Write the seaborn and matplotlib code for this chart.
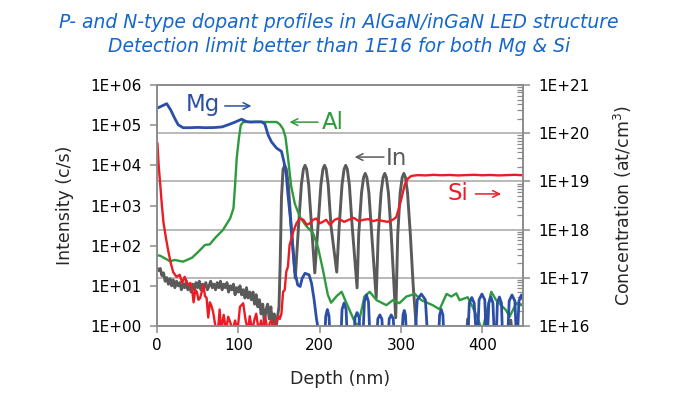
import numpy as np
import matplotlib
matplotlib.use('Agg')
import matplotlib.pyplot as plt
import seaborn as sns
from matplotlib.ticker import FuncFormatter, LogLocator, FixedLocator, NullFormatter, MultipleLocator

# Al and In: secondary ion intensity (c/s), left axis
al_depth = [0, 4, 10, 16, 22, 32, 43, 51, 59, 65, 71, 81, 90, 94, 96, 98, 100.7, 103, 106, 120,
            135, 147, 151, 155, 158, 161, 165, 169.5, 176, 184, 192, 198, 204, 210, 214, 220.7,
            224.7, 227, 233, 243, 247, 255, 261.5, 270, 282, 290, 298, 306.6, 317, 325, 339,
            347.5, 356, 362, 368, 372, 382, 388, 394, 400, 411, 417, 429, 433.5, 441.7, 448, 450]
al_counts = [58, 56, 48, 41, 44, 40, 50, 71, 104, 108, 152, 245, 480, 850, 3200, 15000, 47000, 100000, 120000, 121000,
             120000, 120000, 105000, 80000, 50000, 16000, 3000, 1100, 500, 300, 203, 90, 25, 6, 3.8, 5.5,
             6.5, 7.1, 3.7, 1.28, 0.96, 5.4, 7.1, 4.4, 3.3, 4.4, 3.7, 5.4, 6.3, 4.4, 3.3,
             2.6, 6.3, 5.4, 6.5, 4.4, 5.2, 3.0, 1.6, 0.75, 7.1, 4.4, 2.5, 1.7, 3.7, 3.3, 3.5]

in_depth = [0, 2, 4, 6, 8, 10, 12, 14, 16, 18, 20, 22, 24, 26, 28, 30, 32, 34, 36, 38,
            40, 42, 44, 46, 48, 50, 52, 54, 56, 58, 60, 62, 64, 66, 68, 70, 72, 74, 76, 78,
            80, 82, 84, 86, 88, 90, 92, 94, 96, 98, 100, 102, 104, 106, 108, 110, 112, 114, 116, 118,
            120, 122, 124, 126, 128, 130, 132, 134, 136, 138, 140, 142, 144, 146, 148,
            150, 151.5, 153, 155, 157, 159, 161.5, 165, 170,
            174, 177.5, 180, 182, 184, 186.5, 190, 194,
            198, 201.5, 204, 206, 208, 210.5, 214, 221,
            224, 227.5, 230, 232, 234, 236.5, 240, 246,
            248, 251.5, 254, 256, 258, 260.5, 264, 269.5,
            272, 275.5, 278, 280, 282, 284.5, 288, 293.5,
            296, 299, 301.5, 303.5, 305.5, 308, 311.5, 315, 319, 322,
            380, 382, 384, 433, 435, 437, 450]
in_counts = [28, 24, 27, 18, 21, 13, 16, 11, 15, 10, 14, 9, 13, 10, 12, 8, 11, 9, 13, 8,
             10, 7, 11, 8, 12, 9, 13, 8, 11, 9, 12, 8, 10, 13, 9, 11, 8, 12, 9, 13,
             8, 11, 9, 12, 7, 10, 8, 11, 6, 9, 7, 10, 6, 8, 5, 9, 5, 7, 4.5, 7,
             3.5, 6, 3, 4.5, 2, 3.5, 1.2, 2.5, 3.5, 1.5, 3, 1, 2, 0.8, 1.6,
             3, 40, 1500, 8000, 10000, 8000, 3300, 300, 15.5,
             300, 3300, 8000, 10000, 8000, 3300, 300, 21,
             300, 3300, 8000, 10000, 8000, 3300, 300, 22,
             300, 3300, 8000, 10000, 8000, 3300, 300, 8.9,
             190, 2100, 5000, 6300, 5000, 2100, 190, 5.0,
             190, 2100, 5000, 6300, 5000, 2100, 190, 1.6,
             190, 2100, 5000, 6300, 5000, 2100, 190, 10, 0.8, 0.5,
             0.5, 1.5, 0.5, 0.5, 1.4, 0.5, 0.5]

# Mg and Si: concentration (at/cm3), right axis
mg_depth = [0, 5, 12, 17, 22, 26, 32, 40, 50, 60, 70, 80, 90, 96, 104, 110, 115, 122, 128.6, 132.6,
            136.7, 140.8, 147, 153, 156, 159, 161, 164, 167, 169.5, 173, 176, 178.5, 182, 187, 190, 193, 196, 198, 204,
            206, 207.5, 209.5, 211.5, 213, 226, 227.5, 230, 232.5, 234, 242, 243.5, 246, 248.5, 250,
            253, 255, 257.5, 260, 262, 270, 271.5, 274, 276.5, 278, 284, 285.5, 288, 290.5, 292,
            301, 302.5, 304, 305.5, 307, 317, 320, 325, 330, 333, 346, 347.5, 349.5, 351.5, 353,
            382, 384, 387, 390, 393, 394, 396, 399.5, 403, 405, 406, 408, 410.5, 413, 415,
            417, 418.5, 421, 423.5, 425, 431, 433, 436.5, 440, 442, 443, 445, 448, 450]
mg_conc = [3.3e20, 3.6e20, 4.1e20, 3.0e20, 2.0e20, 1.5e20, 1.3e20, 1.3e20, 1.32e20, 1.3e20,
           1.31e20, 1.35e20, 1.55e20, 1.7e20, 1.95e20, 1.74e20, 1.7e20, 1.72e20, 1.72e20, 1.55e20,
           9.1e19, 6.6e19, 4.9e19, 4.2e19, 2.6e19, 1.35e19, 5.3e18, 1.7e18, 4.2e17, 1.35e17,
           7.1e16, 6.6e16, 9.8e16, 1.24e17, 1.15e17, 7.7e16, 3.7e16, 1.45e16, 9e15, 5e15,
           5e15, 1.6e16, 2.2e16, 1.6e16, 5e15, 5e15, 2.2e16, 3.0e16, 2.2e16, 5e15, 5e15, 1.5e16, 1.9e16, 1.5e16, 5e15,
           5e15, 3.2e16, 4.4e16, 3.2e16, 5e15, 5e15, 1.4e16, 1.7e16, 1.4e16, 5e15, 5e15, 1.4e16, 1.7e16, 1.4e16, 5e15,
           5e15, 1.7e16, 2.1e16, 1.7e16, 5e15, 5e15, 3.5e16, 4.6e16, 3.5e16, 5e15, 5e15, 1.7e16, 2.2e16, 1.7e16, 5e15,
           5e15, 3.0e16, 3.9e16, 3.0e16, 5e15, 5e15, 3.5e16, 4.6e16, 3.5e16, 5e15, 5e15, 3.0e16, 4.0e16, 3.0e16, 5e15,
           5e15, 3.0e16, 4.0e16, 3.0e16, 5e15, 5e15, 3.3e16, 4.4e16, 3.3e16, 5e15, 5e15, 3.3e16, 4.4e16, 3.5e16]

si_depth = [0.5, 2, 4, 6, 8, 11, 14, 17, 20, 24, 28, 31, 34, 38, 41, 43, 45, 47, 49, 51,
            53, 55, 57, 59, 61, 63, 65, 67, 69, 71, 73, 75, 77, 79, 82, 85, 87.5, 90, 93, 96,
            99, 102, 106, 109, 112, 114, 117, 120, 122, 125, 128, 131, 133, 136, 139, 141, 144, 147, 149, 151,
            153, 155, 157, 159, 161, 163, 165, 167.5, 171.5, 175.6, 180, 184, 188, 192, 196, 200, 204, 208, 212.5, 218.6,
            222.7, 230, 236, 242, 248, 254, 260, 266, 272, 278, 284, 290, 294, 297, 300.5, 304.6, 308.6, 312.8, 321, 330,
            340, 350, 360, 370, 380, 390, 400, 410, 420, 430, 440, 450]
si_conc = [6.3e19, 2.2e19, 8.5e18, 3.2e18, 1.4e18, 6.7e17, 3.5e17, 2.0e17, 1.3e17, 1.05e17,
           1.15e17, 7.8e16, 1.05e17, 7.1e16, 7.8e16, 6.1e16, 3.1e16, 5.6e16, 5.1e16, 3.5e16,
           3.8e16, 5.1e16, 7.1e16, 4.2e16, 3.8e16, 1.5e16, 3.1e16, 2.6e16, 1.95e16, 1.2e16,
           8e15, 8e15, 2.2e16, 8e15, 1.7e16, 8e15, 1.56e16, 1.2e16, 8e15, 1.3e16,
           8e15, 2.5e16, 2.96e16, 1.3e16, 8e15, 1.6e16, 8e15, 1.4e16, 1.8e16, 8e15,
           1.3e16, 8e15, 1.55e16, 8e15, 1.2e16, 1.3e16, 8e15, 1.2e16, 1.6e16, 1.4e16,
           1.8e16, 5.1e16, 5.6e16, 1.35e17, 1.7e17, 4.8e17, 6.1e17, 9.1e17, 1.35e18, 1.7e18,
           1.6e18, 1.26e18, 1.35e18, 1.6e18, 1.7e18, 1.35e18, 1.45e18, 1.6e18, 1.26e18, 1.6e18,
           1.7e18, 1.45e18, 1.6e18, 1.75e18, 1.5e18, 1.6e18, 1.65e18, 1.5e18, 1.6e18, 1.5e18,
           1.45e18, 1.6e18, 1.8e18, 2.6e18, 4.4e18, 8.5e18, 1.15e19, 1.3e19, 1.35e19, 1.33e19,
           1.37e19, 1.34e19, 1.36e19, 1.33e19, 1.35e19, 1.37e19, 1.34e19, 1.36e19, 1.33e19, 1.35e19,
           1.37e19, 1.34e19]

title_lines = ['P- and N-type dopant profiles in AlGaN/inGaN LED structure',
               'Detection limit better than 1E16 for both Mg & Si']

BLUE = '#2b4ea6'
GREEN = '#2e9a3e'
GRAY = '#5a5a5a'
RED = '#ec1c24'
AXIS_GRAY = '#8c8c8c'
TITLE_BLUE = '#1467cc'

sns.set_theme(style='white')
plt.rcParams['font.family'] = ['DejaVu Sans']

fig = plt.figure(figsize=(6.78, 3.93), dpi=100)
ax = fig.add_axes([157 / 678, 1 - 326 / 393, 366 / 678, 241 / 393])
ax2 = ax.twinx()

sns.lineplot(x=in_depth, y=in_counts, ax=ax, color=GRAY, lw=2.1, estimator=None, sort=False)
sns.lineplot(x=al_depth, y=al_counts, ax=ax, color=GREEN, lw=1.7, estimator=None, sort=False)
sns.lineplot(x=mg_depth, y=mg_conc, ax=ax2, color=BLUE, lw=2.0, estimator=None, sort=False)
sns.lineplot(x=si_depth, y=si_conc, ax=ax2, color=RED, lw=1.7, estimator=None, sort=False)

ax.set_yscale('log')
ax2.set_yscale('log')
ax.set_xlim(0, 450)
ax.set_ylim(1, 1e6)
ax2.set_ylim(1e16, 1e21)

sci = FuncFormatter(lambda v, _: f'{v:.0E}')
ax.yaxis.set_major_locator(LogLocator(base=10, numticks=10))
ax.yaxis.set_major_formatter(sci)
ax2.yaxis.set_major_locator(LogLocator(base=10, numticks=10))
ax2.yaxis.set_major_formatter(sci)
ax2.yaxis.set_minor_locator(LogLocator(base=10, subs=np.arange(2, 10), numticks=20))
ax2.yaxis.set_minor_formatter(NullFormatter())
ax.xaxis.set_major_locator(MultipleLocator(100))

# horizontal grid at the right-axis decades, drawn on the bottom axes
lo2, hi2 = np.log10(ax2.get_ylim())
lo1, hi1 = np.log10(ax.get_ylim())
grid_pos = 10 ** (lo1 + (np.arange(lo2 + 1, hi2) - lo2) * (hi1 - lo1) / (hi2 - lo2))
ax.yaxis.set_minor_locator(FixedLocator(grid_pos))
ax.yaxis.set_minor_formatter(NullFormatter())
ax.grid(False)
ax2.grid(False)
ax.grid(True, which='minor', axis='y', color='#b9b9b9', lw=1.4)

for a in (ax, ax2):
    for s in a.spines.values():
        s.set_color(AXIS_GRAY)
        s.set_linewidth(1.2)
ax.tick_params(axis='both', which='major', direction='out', length=5, width=1.1,
               color=AXIS_GRAY, labelsize=11, labelcolor='black', pad=6)
ax.tick_params(axis='x', which='major', pad=4)
ax.tick_params(axis='y', which='minor', length=0)
ax.tick_params(axis='y', which='major', left=True)
ax.tick_params(axis='x', which='major', bottom=True)
ax2.tick_params(axis='y', which='major', direction='out', length=5, width=1.1,
                color=AXIS_GRAY, labelsize=11, labelcolor='black', right=True, pad=6)
ax2.tick_params(axis='y', which='minor', direction='in', length=4, width=0.9,
                color=AXIS_GRAY, right=True)

ax.set_xlabel('Depth (nm)', fontsize=12.5, labelpad=12)
ax.set_ylabel('Intensity (c/s)', fontsize=12.5, labelpad=12)
ax2.set_ylabel('Concentration (at/cm$^{3}$)', fontsize=12.5, labelpad=16)

fig.text(0.5, 1 - 22 / 393, title_lines[0], ha='center', va='center', fontsize=13.5,
         style='italic', color=TITLE_BLUE)
fig.text(0.5, 1 - 47 / 393, title_lines[1], ha='center', va='center', fontsize=13.5,
         style='italic', color=TITLE_BLUE)

# element labels with pointers toward their axis
labels = [('Mg', BLUE, 0.124, 0.921, (0.185, 0.913), (0.258, 0.913)),
          ('Al', GREEN, 0.481, 0.846, (0.440, 0.846), (0.362, 0.846)),
          ('In', GRAY, 0.653, 0.697, (0.620, 0.701), (0.540, 0.701)),
          ('Si', RED, 0.822, 0.548, (0.870, 0.548), (0.940, 0.548))]
for name, col, tx, ty, tail, head in labels:
    ax2.text(tx, ty, name, transform=ax2.transAxes, ha='center', va='center',
             fontsize=16.5, color=col)
    ax2.annotate('', xy=head, xytext=tail, xycoords='axes fraction', textcoords='axes fraction',
                 arrowprops=dict(arrowstyle='->', color=col, lw=1.1, shrinkA=0, shrinkB=0))

fig.savefig('out.png', dpi=100)
